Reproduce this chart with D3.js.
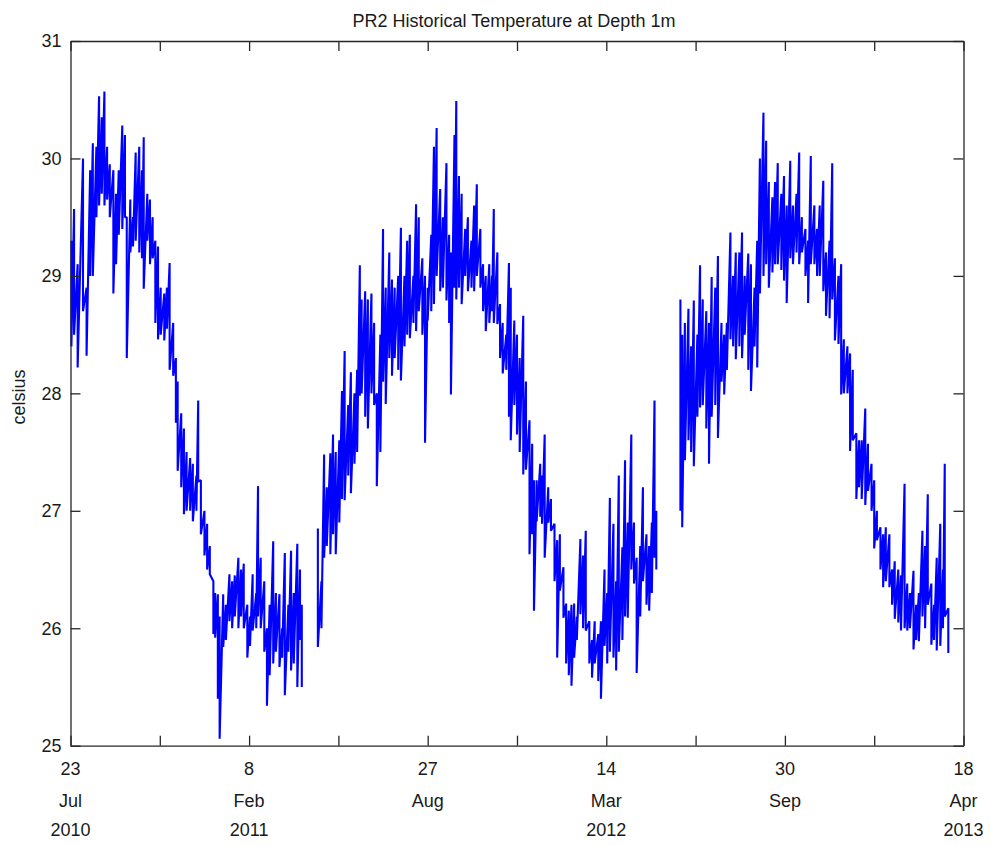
<!DOCTYPE html>
<html>
<head>
<meta charset="utf-8">
<script src="https://cdn.jsdelivr.net/npm/d3@7"></script>
<style>
  body { margin: 0; background: #fff; }
  text { font-family: "Liberation Sans", Arial, sans-serif; font-size: 18px; fill: #1a1a1a; }
  .axis path, .axis line { stroke: #262626; stroke-width: 1.3; }
  .axis text { font-size: 18px; fill: #1a1a1a; font-family: "Liberation Sans", Arial, sans-serif; }
</style>
</head>
<body>
<div id="chart"></div>
<script>
// days after 23 Jul 2010, daily high and low reading (celsius)
// first deployment, Jul 2010 - Apr 2011
var run1 = [
  [1,29.3,28.4],[4,29.57,28.5],[8,29.1,28.22],[14,30.0,28.7],[18,28.9,28.32],[22,29.9,29.0],
  [25,30.13,29.0],[29,30.1,29.5],[32,30.53,29.6],[35,30.35,29.7],[38,30.57,29.6],[41,30.1,29.65],
  [44,29.95,29.5],[48,29.9,28.85],[51,29.7,29.1],[54,29.9,29.35],[58,30.28,29.4],[61,30.2,29.5],
  [63,29.5,28.3],[67,29.65,29.2],[70,29.5,29.25],[73,30.05,29.3],[77,30.1,29.2],[80,29.9,29.15],
  [82,30.18,28.89],[86,29.7,29.3],[89,29.65,29.1],[92,29.5,29.15],[95,29.3,28.6],[98,29.25,28.46],
  [101,28.9,28.5],[105,28.85,28.45],[108,28.9,28.55],[111,29.11,28.2],[115,28.6,28.15],[118,28.3,27.75],
  [120,28.1,27.34],[124,27.83,27.2],[127,27.7,26.97],[130,27.5,27.0],[134,27.45,27.0],[137,27.4,26.91],
  [141,27.3,27.0],[143,27.94,27.25],[146,27.26,26.8],[150,27.0,26.62],[153,26.89,26.5],[156,26.7,26.46],
  [160,26.4,25.95],[162,26.3,25.92],[165,26.29,25.4],[167,26.1,25.06],[171,26.29,25.84],[174,26.2,25.9],
  [178,26.46,26.06],[181,26.4,26.0],[184,26.45,26.1],[188,26.6,26.0],[191,26.5,26.1],[194,26.55,26.0],
  [198,26.2,25.75],[201,26.1,25.85],[204,26.46,25.98],[208,26.3,26.0],[210,27.21,26.1],[213,26.6,26.0],
  [217,26.4,25.8],[220,26.0,25.34],[223,26.2,25.6],[227,26.74,25.7],[230,26.3,25.8],[234,26.29,25.67],
  [237,26.0,25.75],[240,26.64,25.43],[244,26.2,25.8],[247,26.66,25.64],[250,26.3,25.7],[254,26.72,25.5],
  [257,26.5,25.9],[259,26.2,25.5]
];
// second deployment, Apr 2011 - Apr 2012
var run2 = [
  [277,26.85,25.84],[281,26.4,26.0],[284,27.48,26.6],[287,27.2,26.7],[291,27.49,26.63],[294,27.65,26.8],
  [297,27.5,26.63],[301,27.6,26.9],[304,28.02,27.1],[307,28.36,27.09],[311,27.9,27.3],[314,28.18,27.15],
  [318,28.0,27.4],[321,28.2,27.5],[324,29.09,27.98],[326,28.8,28.0],[330,28.87,27.8],[333,28.8,27.7],
  [337,28.85,28.0],[340,28.6,27.9],[343,28.0,27.21],[347,28.5,27.5],[350,29.4,28.1],[353,28.9,27.91],
  [357,29.2,28.3],[360,28.97,28.15],[363,28.9,28.3],[367,29.0,28.2],[370,29.41,28.11],[374,29.0,28.4],
  [377,29.3,28.5],[380,29.35,28.47],[384,29.0,28.6],[387,29.61,28.53],[390,29.5,28.7],[394,29.15,28.5],
  [397,29.0,27.58],[400,28.9,28.62],[404,29.35,28.7],[407,30.1,28.76],[410,30.26,29.0],[414,29.74,28.87],
  [417,29.5,28.9],[421,29.96,28.79],[424,29.35,28.6],[426,29.2,27.99],[430,30.2,28.9],[432,30.49,28.8],
  [435,29.85,28.9],[438,29.7,28.76],[442,29.4,29.0],[445,29.5,28.87],[449,29.3,28.9],[452,29.6,28.87],
  [455,29.78,29.0],[459,29.4,28.9],[462,29.1,28.7],[465,29.0,28.53],[469,29.1,28.6],[472,29.0,28.7],
  [474,29.57,28.6],[478,29.2,28.59],[481,28.76,28.3],[484,28.6,28.17],[488,28.5,28.2],[491,29.11,27.8],
  [493,28.9,27.6],[497,28.62,27.9],[500,28.5,27.65],[503,28.3,27.5],[507,28.66,27.31],[510,28.1,27.35],
  [514,27.77,26.63],[517,27.57,26.8],[519,27.26,26.15],[522,27.26,26.91],[526,27.4,26.95],[528,27.3,26.89],
  [531,27.65,26.6],[535,27.2,26.9],[538,27.1,26.83],[542,26.89,26.4],[545,26.75,25.75],[548,26.8,26.32],
  [552,26.52,26.09],[555,26.21,25.7],[558,26.15,25.6],[561,26.2,25.51],[564,26.21,25.75],[567,26.1,25.9],
  [571,26.76,26.12],[574,26.62,26.0],[577,26.83,25.98],[581,26.06,25.7],[584,25.9,25.58],[587,26.06,25.7],
  [591,25.95,25.55],[594,26.06,25.4],[598,26.5,25.85],[601,26.3,25.7],[604,27.11,25.8],[608,26.89,25.75],
  [611,26.4,25.64],[614,27.3,25.8],[618,26.69,25.9],[621,27.43,26.1],[624,26.9,26.09],[628,27.65,26.5],
  [631,26.9,26.38],[634,26.6,25.62],[638,26.7,26.1],[641,27.2,26.4],[645,26.8,26.2],[648,26.7,26.15],
  [651,26.9,26.3],[654,27.94,26.6],[656,27.0,26.5]
];
// third deployment, May 2012 - Apr 2013
var run3 = [
  [683,28.8,27.0],[685,28.5,26.86],[688,28.6,27.43],[692,28.72,27.6],[695,28.4,27.5],[698,28.79,27.38],
  [702,28.5,27.8],[705,29.09,27.88],[708,28.8,27.9],[712,28.7,27.7],[715,28.6,27.4],[718,28.99,27.8],
  [722,28.9,27.9],[725,29.17,27.62],[729,28.6,28.1],[732,28.5,27.99],[735,28.6,28.2],[739,29.37,28.46],
  [742,29.0,28.4],[745,29.2,28.29],[749,29.2,28.4],[752,29.37,28.3],[755,29.0,28.5],[759,29.19,28.2],
  [762,29.1,28.02],[766,28.9,28.4],[769,29.3,28.22],[772,30.0,28.85],[776,30.39,29.0],[779,30.15,29.1],
  [782,29.8,28.9],[786,29.67,29.03],[789,29.8,29.1],[792,29.96,29.1],[796,29.7,29.05],[799,29.85,28.96],
  [802,29.6,28.77],[806,29.98,29.15],[809,29.6,29.1],[813,29.7,29.2],[816,30.05,29.1],[819,29.5,29.2],
  [823,29.4,29.0],[826,29.3,28.77],[829,30.02,29.1],[833,29.6,29.1],[836,29.4,29.0],[839,29.6,29.0],
  [843,29.81,28.87],[846,29.2,28.66],[850,29.3,28.64],[853,29.96,28.8],[856,29.15,28.45],[860,29.0,28.42],
  [863,29.1,27.99],[866,28.46,28.0],[870,28.4,28.0],[873,28.34,27.51],[876,28.2,27.6],[880,27.66,27.1],
  [883,27.6,27.2],[886,27.6,27.1],[890,27.87,27.05],[893,27.57,27.17],[897,27.4,27.0],[900,27.26,26.68],
  [903,27.0,26.75],[907,26.86,26.5],[910,26.8,26.35],[913,26.86,26.4],[917,26.8,26.35],[920,26.5,26.2],
  [923,26.57,26.08],[927,26.5,26.05],[930,26.45,25.98],[934,27.23,26.0],[937,26.38,25.98],[940,26.3,26.0],
  [944,26.49,25.82],[947,26.2,25.9],[950,26.3,25.89],[954,26.83,26.1],[957,26.7,26.0],[960,27.14,26.2],
  [964,26.38,25.86],[967,26.2,25.9],[970,26.6,25.81],[974,26.89,25.85],[977,26.5,26.0],[979,27.4,26.1],
  [983,26.17,25.79]
];

var yTicks = [25, 26, 27, 28, 29, 30, 31];
var xTickDays = [0, 100, 200, 300, 400, 500, 600, 700, 800, 900, 1000];
var titleText = "PR2 Historical Temperature at Depth 1m";
var yLabel = "celsius";

function init() {
  var w = 991, h = 846;
  var left = 70.5, right = 963.5, top = 41, bottom = 745.7;
  var start = new Date(Date.UTC(2010, 6, 23));

  var svg = d3.select("#chart").append("svg")
              .attr("width", w)
              .attr("height", h);

  var xScale = d3.scaleUtc()
                 .domain([start, d3.utcDay.offset(start, 1000)])
                 .range([left, right]);
  var yScale = d3.scaleLinear()
                 .domain([25, 31])
                 .range([bottom, top]);

  var xTicks = xTickDays.map(function(d) { return d3.utcDay.offset(start, d); });

  // each reading becomes a vertical stroke high -> low, runs split by gaps
  var points = [];
  [run1, run2, run3].forEach(function(run, i) {
    if (i > 0) points.push(null);
    run.forEach(function(r) {
      var t = d3.utcDay.offset(start, r[0]);
      points.push({date: t, v: r[1]});
      points.push({date: t, v: r[2]});
    });
  });

  var line = d3.line()
               .defined(function(d) { return d !== null; })
               .x(function(d) { return xScale(d.date); })
               .y(function(d) { return yScale(d.v); });

  svg.append("path")
     .datum(points)
     .attr("d", line)
     .attr("fill", "none")
     .attr("stroke", "#0000ff")
     .attr("stroke-width", 2.1)
     .attr("stroke-linejoin", "bevel");

  // box axes, ticks pointing inward
  svg.append("g").attr("class", "axis")
     .attr("transform", "translate(0," + bottom + ")")
     .call(d3.axisBottom(xScale).tickValues(xTicks).tickSizeInner(-10).tickSizeOuter(0).tickFormat(""));
  svg.append("g").attr("class", "axis")
     .attr("transform", "translate(0," + top + ")")
     .call(d3.axisTop(xScale).tickValues(xTicks).tickSizeInner(-10).tickSizeOuter(0).tickFormat(""));
  svg.append("g").attr("class", "axis")
     .attr("transform", "translate(" + left + ",0)")
     .call(d3.axisLeft(yScale).tickValues(yTicks).tickSizeInner(-10).tickSizeOuter(0)
             .tickPadding(9).tickFormat(d3.format("d")));
  svg.append("g").attr("class", "axis")
     .attr("transform", "translate(" + right + ",0)")
     .call(d3.axisRight(yScale).tickValues(yTicks).tickSizeInner(-10).tickSizeOuter(0).tickFormat(""));
  svg.selectAll(".axis .domain").attr("stroke-width", 1.3);

  // three-row date labels on every other tick
  var labelled = xTicks.filter(function(d, i) { return i % 2 === 0; });
  var lastYear = null;
  labelled.forEach(function(d) {
    var x = xScale(d);
    svg.append("text").attr("x", x).attr("y", bottom + 23)
       .attr("text-anchor", "middle").attr("dominant-baseline", "central")
       .text(d3.utcFormat("%-d")(d));
    svg.append("text").attr("x", x).attr("y", bottom + 55)
       .attr("text-anchor", "middle").attr("dominant-baseline", "central")
       .text(d3.utcFormat("%b")(d));
    var yr = d.getUTCFullYear();
    if (yr !== lastYear) {
      svg.append("text").attr("x", x).attr("y", bottom + 84)
         .attr("text-anchor", "middle").attr("dominant-baseline", "central")
         .text(yr);
      lastYear = yr;
    }
  });

  svg.append("text")
     .attr("x", (left + right) / 2 - 3)
     .attr("y", 21)
     .attr("text-anchor", "middle")
     .attr("dominant-baseline", "central")
     .text(titleText);

  svg.append("text")
     .attr("transform", "translate(19," + 397 + ") rotate(-90)")
     .attr("text-anchor", "middle")
     .attr("dominant-baseline", "central")
     .text(yLabel);
}

window.onload = init;
</script>
</body>
</html>
